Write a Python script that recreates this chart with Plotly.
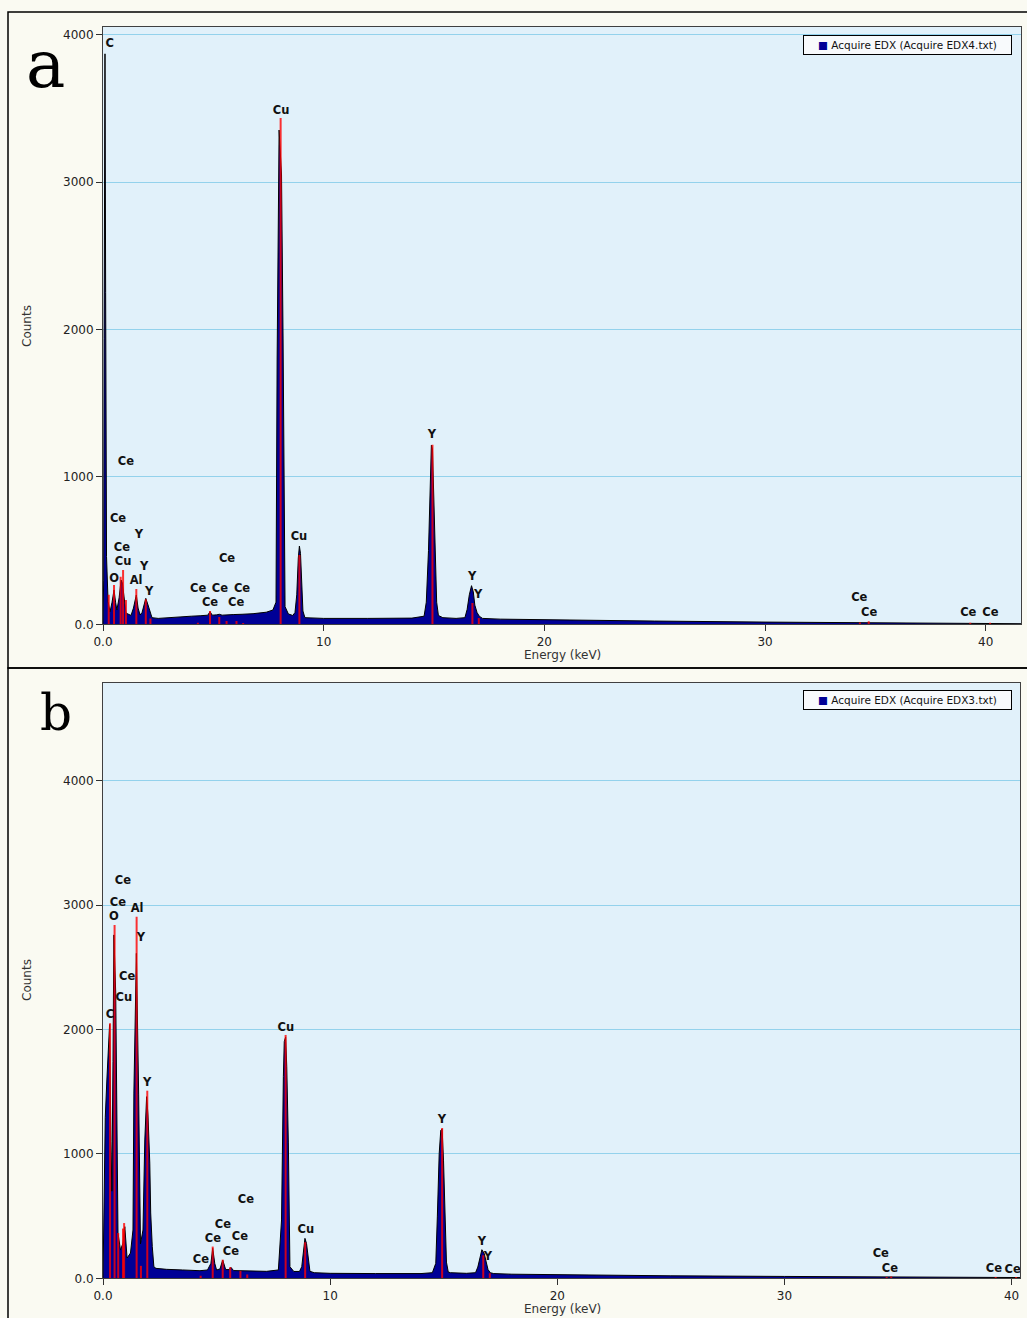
import plotly.graph_objects as go

# ---------------- Panel a spectrum (energy keV, counts) ----------------
A_E = [0.00, 0.03, 0.05, 0.09, 0.12, 0.16, 0.23, 0.32, 0.41, 0.50, 0.57, 0.63, 0.73, 0.82, 0.88,
       0.95, 1.04, 1.13, 1.27, 1.38, 1.51, 1.59, 1.68, 1.77, 1.86, 1.94, 2.04, 2.13, 2.22, 2.5,
       2.9, 3.5, 4.0, 4.4, 4.75, 4.85, 4.95, 5.15, 5.27, 5.4, 5.6, 5.9, 6.3, 6.8, 7.4, 7.7,
       7.84, 7.89, 7.98, 8.09, 8.16, 8.21, 8.25, 8.4, 8.6, 8.7, 8.78, 8.85, 8.90, 8.95, 9.00,
       9.06, 9.15, 10.0, 12.0, 14.0, 14.55, 14.65, 14.75, 14.82, 14.88, 14.93, 14.98, 15.05,
       15.12, 15.2, 15.4, 16.0, 16.4, 16.5, 16.6, 16.7, 16.78, 16.85, 16.95, 17.05, 17.2,
       18.0, 20.0, 25.0, 30.0, 35.0, 40.0, 41.6]
A_C = [0, 300, 1940, 3870, 2250, 459, 153, 85, 150, 233, 150, 97, 180, 300, 280,
       200, 77, 70, 60, 110, 199, 110, 63, 80, 140, 176, 131, 80, 45, 40,
       45, 50, 55, 58, 62, 86, 62, 64, 68, 62, 62, 66, 68, 72, 82, 97,
       150, 1793, 3353, 3048, 1942, 500, 120, 70, 60, 80, 200, 450, 531, 480, 250,
       90, 45, 40, 40, 42, 55, 150, 500, 950, 1215, 1190, 900, 450,
       150, 60, 45, 40, 45, 100, 200, 262, 220, 130, 80, 55, 40,
       35, 30, 22, 15, 10, 5, 4]

# element marker lines, panel a
A_LINE_E = [0.26, 0.50, 0.80, 0.91, 1.04, 1.51, 1.94, 2.15, 4.30, 4.85, 5.27, 5.60, 6.05, 6.35,
            8.05, 8.90, 14.93, 16.74, 17.03, 34.3, 34.7, 39.3, 40.2]
A_LINE_H = [200, 267, 323, 368, 165, 240, 170, 40, 10, 90, 50, 22, 22, 9,
            3435, 470, 1218, 144, 43, 12, 20, 10, 10]

# peak labels, panel a
A_LAB_T = ["C", "Cu", "Ce", "Ce", "Y", "Ce", "Cu", "Y", "O", "Al", "Y", "Ce", "Ce", "Ce", "Ce",
           "Ce", "Ce", "Cu", "Y", "Y", "Y", "Ce", "Ce", "Ce", "Ce"]
A_LAB_E = [0.30, 8.07, 1.04, 0.68, 1.63, 0.86, 0.91, 1.86, 0.50, 1.50, 2.09, 5.62, 4.31, 5.30, 6.30,
           4.85, 6.03, 8.88, 14.91, 16.73, 17.00, 34.27, 34.72, 39.21, 40.21]
A_LAB_C = [3937, 3482, 1100, 713, 604, 518, 423, 391, 303, 296, 219, 445, 240, 240, 240,
           145, 145, 593, 1284, 321, 199, 179, 77, 77, 77]

# ---------------- Panel b spectrum ----------------
B_E = [0.00, 0.03, 0.05, 0.10, 0.17, 0.29, 0.35, 0.39, 0.44, 0.48, 0.56, 0.62, 0.66, 0.77, 0.88,
       0.96, 1.06, 1.21, 1.32, 1.36, 1.47, 1.57, 1.65, 1.76, 1.84, 1.92, 1.98, 2.06, 2.10, 2.17,
       2.24, 2.33, 2.8, 3.5, 4.27, 4.6, 4.75, 4.83, 4.92, 5.0, 5.15, 5.27, 5.4, 5.55, 5.63, 5.75,
       6.03, 6.3, 7.2, 7.72, 7.86, 7.94, 7.98, 8.04, 8.09, 8.16, 8.23, 8.4, 8.65, 8.75, 8.83,
       8.89, 8.96, 9.04, 9.11, 9.3, 10.0, 12.0, 14.0, 14.5, 14.65, 14.72, 14.8, 14.87, 14.93,
       14.99, 15.05, 15.12, 15.2, 15.3, 16.0, 16.4, 16.5, 16.6, 16.68, 16.78, 16.87, 16.95,
       17.05, 17.2, 18.0, 20.0, 25.0, 30.0, 35.0, 40.0, 40.37]
B_C = [0, 400, 646, 1294, 1594, 2040, 1098, 700, 1741, 2760, 2291, 1007, 364, 227, 283,
       415, 163, 203, 388, 1489, 2612, 1474, 276, 388, 1112, 1460, 1313, 926, 525, 254,
       93, 80, 72, 67, 61, 67, 120, 241, 120, 67, 75, 147, 70, 70, 88, 62,
       61, 58, 56, 67, 469, 1621, 1902, 1940, 1701, 1088, 93, 55, 55, 93, 220,
       321, 280, 147, 56, 45, 40, 38, 38, 45, 120, 500, 1000, 1190, 1200,
       950, 450, 130, 50, 45, 40, 45, 90, 180, 230, 200, 120, 70,
       45, 38, 33, 28, 20, 15, 10, 6, 6]

B_LINE_E = [0.31, 0.51, 0.67, 0.88, 0.93, 1.48, 1.67, 1.95, 4.30, 4.83, 5.27, 5.60, 6.05, 6.35,
            8.04, 8.90, 14.93, 16.74, 17.03, 34.5, 34.7, 39.3, 40.2]
B_LINE_H = [2050, 2840, 364, 400, 444, 2907, 100, 1508, 20, 255, 150, 90, 60, 30,
            1956, 290, 1208, 185, 40, 10, 15, 10, 10]

B_LAB_T = ["Ce", "Ce", "O", "Al", "Y", "Ce", "Cu", "C", "Cu", "Y", "Y", "Ce", "Ce", "Ce", "Ce",
           "Ce", "Ce", "Cu", "Y", "Y", "Ce", "Ce", "Ce", "Ce"]
B_LAB_E = [0.88, 0.66, 0.48, 1.50, 1.67, 1.06, 0.92, 0.31, 8.05, 1.94, 14.92, 6.29, 5.28, 4.84, 6.03,
           5.63, 4.31, 8.93, 16.68, 16.95, 34.24, 34.64, 39.22, 40.05]
B_LAB_C = [3195, 3017, 2904, 2969, 2736, 2422, 2253, 2117, 2012, 1570, 1272, 629, 428, 316, 332,
           212, 147, 388, 292, 171, 196, 75, 75, 67]

Y_TICKS = [0, 1000, 2000, 3000, 4000]
Y_TICKTEXT = ["0.0", "1000", "2000", "3000", "4000"]
X_TICKS = [0, 10, 20, 30, 40]
X_TICKTEXT = ["0.0", "10", "20", "30", "40"]

LEGEND_A = "Acquire EDX (Acquire EDX4.txt)"
LEGEND_B = "Acquire EDX (Acquire EDX3.txt)"
X_TITLE = "Energy (keV)"
Y_TITLE = "Counts"

W, H = 1027, 1318
FILL = "#000096"
RED = "rgba(255,0,0,0.8)"
FONT = "DejaVu Sans"
GRID = "#93D2EC"


def segments(E, Hh):
    xs, ys = [], []
    for e, h in zip(E, Hh):
        xs += [e, e, None]
        ys += [0, h, None]
    return xs, ys


fig = go.Figure()

for (E, C, LE, LH, LT, LX, LY, xa, ya) in [
    (A_E, A_C, A_LINE_E, A_LINE_H, A_LAB_T, A_LAB_E, A_LAB_C, "x", "y"),
    (B_E, B_C, B_LINE_E, B_LINE_H, B_LAB_T, B_LAB_E, B_LAB_C, "x2", "y2"),
]:
    fig.add_trace(go.Scatter(x=E, y=C, mode="lines", fill="tozeroy", fillcolor=FILL,
                             line=dict(color="#000000", width=1), xaxis=xa, yaxis=ya,
                             showlegend=False, hoverinfo="skip"))
    sx, sy = segments(LE, LH)
    fig.add_trace(go.Scatter(x=sx, y=sy, mode="lines", line=dict(color=RED, width=2),
                             xaxis=xa, yaxis=ya, showlegend=False, hoverinfo="skip"))
    fig.add_trace(go.Scatter(x=LX, y=LY, mode="text", text=LT, textposition="middle center",
                             textfont=dict(family=FONT, size=11.5, color="#111111", weight="bold"),
                             xaxis=xa, yaxis=ya, showlegend=False, hoverinfo="skip",
                             cliponaxis=True))

xdom_a = [103 / W, 1021 / W]
xdom_b = [103 / W, 1020 / W]
ydom_a = [1 - 624.3 / H, 1 - 26.7 / H]
ydom_b = [1 - 1278.3 / H, 1 - 683 / H]

axis_common = dict(showline=True, linecolor="#404040", linewidth=1, mirror=True,
                   ticks="outside", ticklen=6, tickcolor="#303030", zeroline=False,
                   automargin=False,
                   tickfont=dict(family=FONT, size=12, color="#222222"))

fig.update_layout(
    width=W, height=H,
    margin=dict(l=0, r=0, t=0, b=0, pad=0, autoexpand=False),
    paper_bgcolor="#FAFAF2",
    plot_bgcolor="#E1F1FA",
    xaxis=dict(domain=xdom_a, anchor="y", range=[0, 41.6], tickvals=X_TICKS, ticktext=X_TICKTEXT,
               showgrid=False, **axis_common),
    yaxis=dict(domain=ydom_a, anchor="x", range=[0, 4054], tickvals=Y_TICKS, ticktext=Y_TICKTEXT,
               showgrid=True, gridcolor=GRID, gridwidth=1, **axis_common),
    xaxis2=dict(domain=xdom_b, anchor="y2", range=[0, 40.37], tickvals=X_TICKS, ticktext=X_TICKTEXT,
                showgrid=False, **axis_common),
    yaxis2=dict(domain=ydom_b, anchor="x2", range=[0, 4785], tickvals=Y_TICKS, ticktext=Y_TICKTEXT,
                showgrid=True, gridcolor=GRID, gridwidth=1, **axis_common),
)

# outer panel frames
fig.add_shape(type="rect", xref="paper", yref="paper", x0=8 / W, x1=1.02, y0=1 - 668 / H, y1=1 - 12 / H,
              line=dict(color="#000000", width=1.5), layer="below")
fig.add_shape(type="rect", xref="paper", yref="paper", x0=8 / W, x1=1.02, y0=-0.02, y1=1 - 668 / H,
              line=dict(color="#000000", width=1.5), layer="below")

# axis titles
for yc in [326, 980]:
    fig.add_annotation(xref="paper", yref="paper", x=27 / W, y=1 - yc / H, xanchor="center",
                       yanchor="middle", showarrow=False, text=Y_TITLE, textangle=-90,
                       font=dict(family=FONT, size=12, color="#333333"))
for yc in [655, 1309]:
    fig.add_annotation(xref="paper", yref="paper", x=562 / W, y=1 - yc / H, xanchor="center",
                       yanchor="middle", showarrow=False, text=X_TITLE,
                       font=dict(family=FONT, size=12, color="#333333"))

# legends (boxed)
for txt, yc in [(LEGEND_A, 45), (LEGEND_B, 700)]:
    fig.add_annotation(xref="paper", yref="paper", x=907.5 / W, y=1 - yc / H,
                       xanchor="center", yanchor="middle", showarrow=False,
                       text='<span style="color:#000096">■</span> ' + txt,
                       font=dict(family=FONT, size=10.5, color="#111111"),
                       bgcolor="#F8FAFC", bordercolor="#000000", borderwidth=1, borderpad=2,
                       width=203, height=14)

# panel letters (kept clear of the 4000 tick label)
fig.add_annotation(xref="paper", yref="paper", x=45 / W, y=1 - 104 / H, xanchor="center", yanchor="bottom",
                   showarrow=False, text="a", font=dict(family="DejaVu Serif", size=66, color="#000000"),
                   height=58, valign="bottom", borderpad=0)
fig.add_annotation(xref="paper", yref="paper", x=56 / W, y=1 - 731 / H, xanchor="center", yanchor="bottom",
                   showarrow=False, text="b", font=dict(family="DejaVu Serif", size=50, color="#000000"),
                   yshift=-13)

fig.write_html("out.html", config={"displayModeBar": False},
               post_script="document.body.style.margin='0';document.body.style.overflow='hidden';")
